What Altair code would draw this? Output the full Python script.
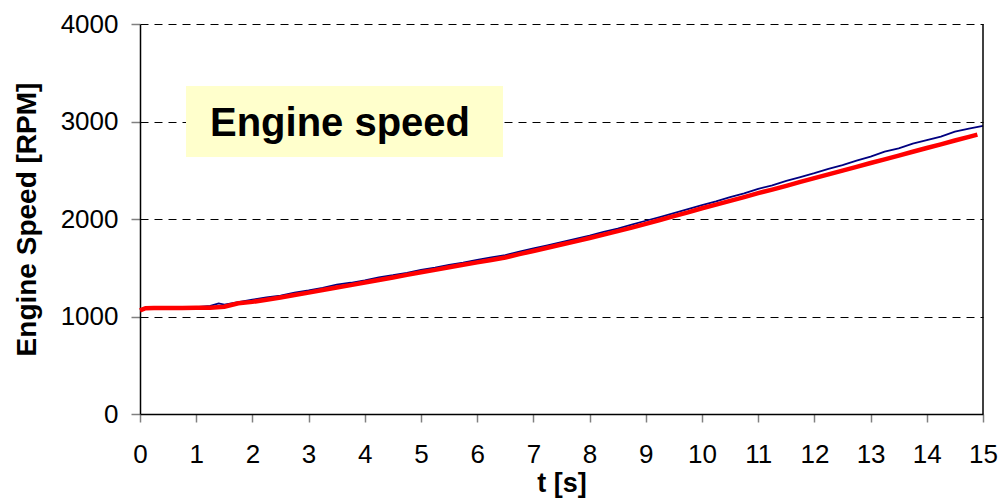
import altair as alt
import pandas as pd

# ---- data ----
t_blue = [0, 0.25, 0.5, 0.75, 1.0, 1.25, 1.4, 1.5, 1.75, 2.0, 2.25, 2.5, 2.75, 3.0, 3.25, 3.5, 3.75,
          4.0, 4.25, 4.5, 4.75, 5.0, 5.25, 5.5, 5.75, 6.0, 6.25, 6.5, 6.75, 7.0, 7.25, 7.5, 7.75,
          8.0, 8.25, 8.5, 8.75, 9.0, 9.25, 9.5, 9.75, 10.0, 10.25, 10.5, 10.75, 11.0, 11.25, 11.5,
          11.75, 12.0, 12.25, 12.5, 12.75, 13.0, 13.25, 13.5, 13.75, 14.0, 14.25, 14.5, 14.75, 15.0]
rpm_blue = [1068, 1088, 1088, 1090, 1095, 1110, 1135, 1122, 1148, 1172, 1196, 1214, 1246, 1268, 1294,
            1326, 1346, 1370, 1402, 1423, 1448, 1478, 1500, 1530, 1553, 1580, 1606, 1630, 1666, 1698,
            1730, 1763, 1797, 1830, 1868, 1902, 1942, 1982, 2020, 2060, 2102, 2142, 2180, 2225, 2262,
            2310, 2345, 2390, 2430, 2470, 2515, 2552, 2598, 2640, 2690, 2725, 2772, 2810, 2845, 2895,
            2928, 2955]

t_red = [0, 0.1, 0.25, 0.5, 0.75, 1.0, 1.25, 1.5, 1.75, 2.0, 2.25, 2.5, 2.75, 3.0, 3.25, 3.5, 3.75,
         4.0, 4.25, 4.5, 4.75, 5.0, 5.25, 5.5, 5.75, 6.0, 6.25, 6.5, 6.75, 7.0, 7.25, 7.5, 7.75,
         8.0, 8.25, 8.5, 8.75, 9.0, 9.25, 9.5, 9.75, 10.0, 10.25, 10.5, 10.75, 11.0, 11.25, 11.5,
         11.75, 12.0, 12.25, 12.5, 12.75, 13.0, 13.25, 13.5, 13.75, 14.0, 14.25, 14.5, 14.75, 14.9]
rpm_red = [1062, 1085, 1088, 1088, 1088, 1090, 1090, 1100, 1135, 1150, 1172, 1195, 1220, 1245, 1272,
           1298, 1322, 1348, 1375, 1400, 1427, 1453, 1478, 1505, 1530, 1555, 1580, 1605, 1640, 1672,
           1705, 1738, 1770, 1805, 1840, 1875, 1912, 1950, 1990, 2030, 2068, 2110, 2148, 2186, 2224,
           2265, 2302, 2340, 2380, 2420, 2458, 2496, 2535, 2574, 2612, 2650, 2690, 2728, 2766, 2805,
           2843, 2866]

x_ticks = list(range(0, 16))
y_ticks = [0, 1000, 2000, 3000, 4000]
label_text = ["Engine speed"]

blue_df = pd.DataFrame({"t": t_blue, "rpm": rpm_blue})
red_df = pd.DataFrame({"t": t_red, "rpm": rpm_red})
label_df = pd.DataFrame({"label": label_text})

FONT = "Liberation Sans"
W, H = 843, 390

x_enc = alt.X(
    "t:Q",
    scale=alt.Scale(domain=[0, 15], nice=False, zero=False),
    axis=alt.Axis(
        values=x_ticks, format="d", title="t [s]", grid=False,
        domainColor="black", domainWidth=1.5,
        tickColor="#808080", tickSize=8, tickWidth=1.5,
        labelFont=FONT, labelFontSize=26, labelColor="black", labelPadding=19,
        labelFlush=False, labelOverlap=False,
        titleFont=FONT, titleFontSize=27, titleFontWeight="bold", titleColor="black",
        titleBaseline="alphabetic", titleY=77,
    ),
)
y_enc = alt.Y(
    "rpm:Q",
    scale=alt.Scale(domain=[0, 4000], nice=False),
    axis=alt.Axis(
        values=y_ticks, format="d", title="Engine Speed [RPM]", grid=True,
        gridColor="black", gridDash=[8, 6], gridWidth=1,
        domainColor="black", domainWidth=1.5,
        tickColor="#808080", tickSize=9, tickWidth=1.5,
        labelFont=FONT, labelFontSize=26, labelColor="black", labelPadding=13,
        labelFlush=False, labelOverlap=False,
        titleFont=FONT, titleFontSize=28, titleFontWeight="bold", titleColor="black",
        titleBaseline="alphabetic", titleAngle=270, titleX=-105, titleY=H / 2, titleAlign="center",
    ),
)

blue_line = alt.Chart(blue_df).mark_line(color="#000080", strokeWidth=1.8).encode(x=x_enc, y=y_enc)
red_line = alt.Chart(red_df).mark_line(color="#FF0000", strokeWidth=4.5).encode(x="t:Q", y="rpm:Q")

right_border = alt.Chart(label_df).mark_rule(color="black", strokeWidth=1.5).encode(
    x=alt.value(W), y=alt.value(0), y2=alt.value(H)
)
box = alt.Chart(label_df).mark_rect(color="#FFFFCC").encode(
    x=alt.value(46), x2=alt.value(363), y=alt.value(62), y2=alt.value(133)
)
text = alt.Chart(label_df).mark_text(
    font=FONT, fontSize=40, fontWeight="bold", color="black", align="center", baseline="alphabetic"
).encode(x=alt.value(200), y=alt.value(112), text="label:N")

chart = alt.layer(blue_line, red_line, right_border, box, text).properties(
    width=W, height=H,
    padding={"left": 140, "top": 24, "right": 20, "bottom": 85},
    autosize=alt.AutoSizeParams(type="none"),
    background="white",
).configure_view(stroke=None)

chart.save("out.html", embed_options={"renderer": "svg", "actions": False})
